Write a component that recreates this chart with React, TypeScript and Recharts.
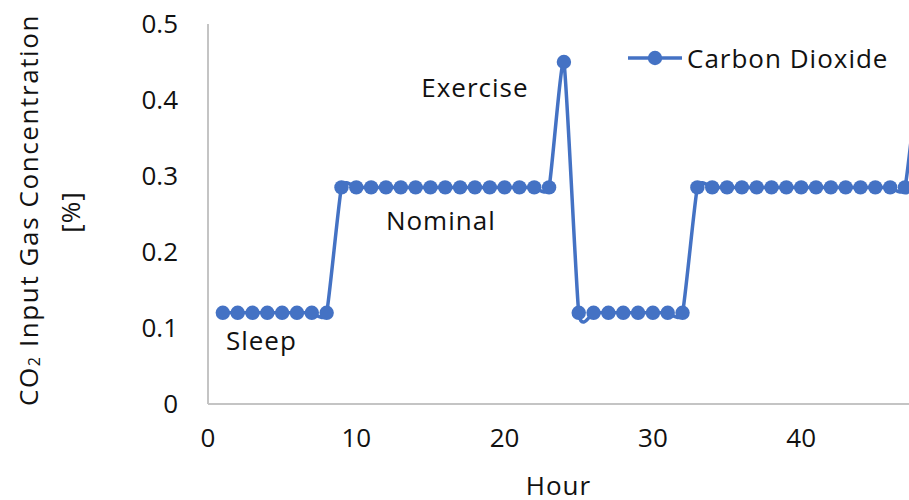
import React from 'react';
import { LineChart, Line, XAxis, YAxis, ReferenceDot, Label } from 'recharts';

const hours = [
  1, 2, 3, 4, 5, 6, 7, 8, 9, 10, 11, 12, 13, 14, 15, 16, 17, 18, 19, 20, 21, 22, 23, 24,
  25, 26, 27, 28, 29, 30, 31, 32, 33, 34, 35, 36, 37, 38, 39, 40, 41, 42, 43, 44, 45, 46, 47, 48,
];
const co2 = [
  0.12, 0.12, 0.12, 0.12, 0.12, 0.12, 0.12, 0.12,
  0.285, 0.285, 0.285, 0.285, 0.285, 0.285, 0.285, 0.285, 0.285, 0.285, 0.285, 0.285, 0.285, 0.285, 0.285,
  0.45,
  0.12, 0.12, 0.12, 0.12, 0.12, 0.12, 0.12, 0.12,
  0.285, 0.285, 0.285, 0.285, 0.285, 0.285, 0.285, 0.285, 0.285, 0.285, 0.285, 0.285, 0.285, 0.285, 0.285,
  0.45,
];
const xTicks = [0, 10, 20, 30, 40];
const yTicks = [0, 0.1, 0.2, 0.3, 0.4, 0.5];
const annotations = [
  { text: 'Sleep', hour: 3.6, value: 0.083 },
  { text: 'Nominal', hour: 15.7, value: 0.241 },
  { text: 'Exercise', hour: 18.0, value: 0.416 },
];
const seriesName = 'Carbon Dioxide';

const data = hours.map((h, i) => ({ hour: h, co2: co2[i] }));

const FONT = '"Open Sans", Lato, sans-serif';
const BLUE = '#4472C4';
const AXIS = '#c4c4c4';
const TEXT = '#111';
const FS = 26;
const LS = 1;

// Excel-like smoothed line (mild Catmull-Rom style Bezier segments)
function excelSmooth(context: any) {
  let pts: number[][] = [];
  const k = 1 / 12;
  return {
    areaStart() {},
    areaEnd() {},
    lineStart() {
      pts = [];
    },
    point(x: number, y: number) {
      pts.push([+x, +y]);
    },
    lineEnd() {
      const n = pts.length;
      if (!n) return;
      context.moveTo(pts[0][0], pts[0][1]);
      for (let i = 0; i < n - 1; i++) {
        const p0 = pts[i - 1] || pts[i];
        const p1 = pts[i];
        const p2 = pts[i + 1];
        const p3 = pts[i + 2] || pts[i + 1];
        context.bezierCurveTo(
          p1[0] + (p2[0] - p0[0]) * k,
          p1[1] + (p2[1] - p0[1]) * k,
          p2[0] - (p3[0] - p1[0]) * k,
          p2[1] - (p3[1] - p1[1]) * k,
          p2[0],
          p2[1]
        );
      }
    },
  };
}

const YTitle = () => (
  <g>
    <text
      transform="translate(28,210) rotate(-90)"
      textAnchor="middle"
      dominantBaseline="central"
      fontFamily={FONT}
      fontSize={FS}
      fill={TEXT}
      letterSpacing={1.6}
    >
      CO<tspan fontSize={16} dy={6}>2</tspan>
      <tspan dy={-6}> Input Gas Concentration</tspan>
    </text>
    <text
      transform="translate(70,212) rotate(-90)"
      textAnchor="middle"
      dominantBaseline="central"
      fontFamily={FONT}
      fontSize={FS}
      fill={TEXT}
      letterSpacing={LS}
    >
      [%]
    </text>
  </g>
);

export default function App() {
  return (
    <div style={{ position: 'absolute', top: 0, left: 0, width: 909, height: 500, overflow: 'hidden' }}>
      <LineChart width={909} height={500} data={data} margin={{ top: 24, right: 0, bottom: 0, left: 0 }}>
        <XAxis
          dataKey="hour"
          type="number"
          domain={[0, 47.27]}
          allowDataOverflow
          ticks={xTicks}
          tickLine={false}
          axisLine={{ stroke: AXIS, strokeWidth: 2 }}
          tick={{ fontFamily: FONT, fontSize: FS, fill: TEXT }}
          tickMargin={19}
          height={96}
          label={{ value: 'Hour', position: 'insideBottom', offset: 5, fontFamily: FONT, fontSize: FS, fill: TEXT, letterSpacing: LS }}
        />
        <YAxis
          type="number"
          domain={[0, 0.5]}
          ticks={yTicks}
          tickLine={false}
          axisLine={{ stroke: AXIS, strokeWidth: 2 }}
          tick={{ fontFamily: FONT, fontSize: FS, fill: TEXT }}
          tickMargin={24}
          width={208}
        >
          <Label content={() => <YTitle />} />
        </YAxis>
        <Line
          type={excelSmooth as any}
          dataKey="co2"
          name={seriesName}
          stroke={BLUE}
          strokeWidth={3.5}
          dot={{ r: 7.2, fill: BLUE, stroke: BLUE, strokeWidth: 0 }}
          activeDot={false}
          isAnimationActive={false}
        />
        {annotations.map((a) => (
          <ReferenceDot
            key={a.text}
            x={a.hour}
            y={a.value}
            r={0}
            stroke="none"
            fill="none"
            label={{ value: a.text, position: 'center', fontFamily: FONT, fontSize: FS, fill: TEXT, letterSpacing: LS }}
          />
        ))}
      </LineChart>
      <div
        style={{
          position: 'absolute',
          top: 40,
          left: 626,
          display: 'flex',
          alignItems: 'center',
          fontFamily: FONT,
          fontSize: FS,
          color: TEXT,
          lineHeight: '36px',
          whiteSpace: 'nowrap',
          letterSpacing: LS,
        }}
      >
        <svg width={58} height={20} style={{ marginRight: 3 }}>
          <line x1={2} y1={10} x2={56} y2={10} stroke={BLUE} strokeWidth={3.5} />
          <circle cx={29} cy={10} r={7.2} fill={BLUE} />
        </svg>
        <span>{seriesName}</span>
      </div>
    </div>
  );
}
